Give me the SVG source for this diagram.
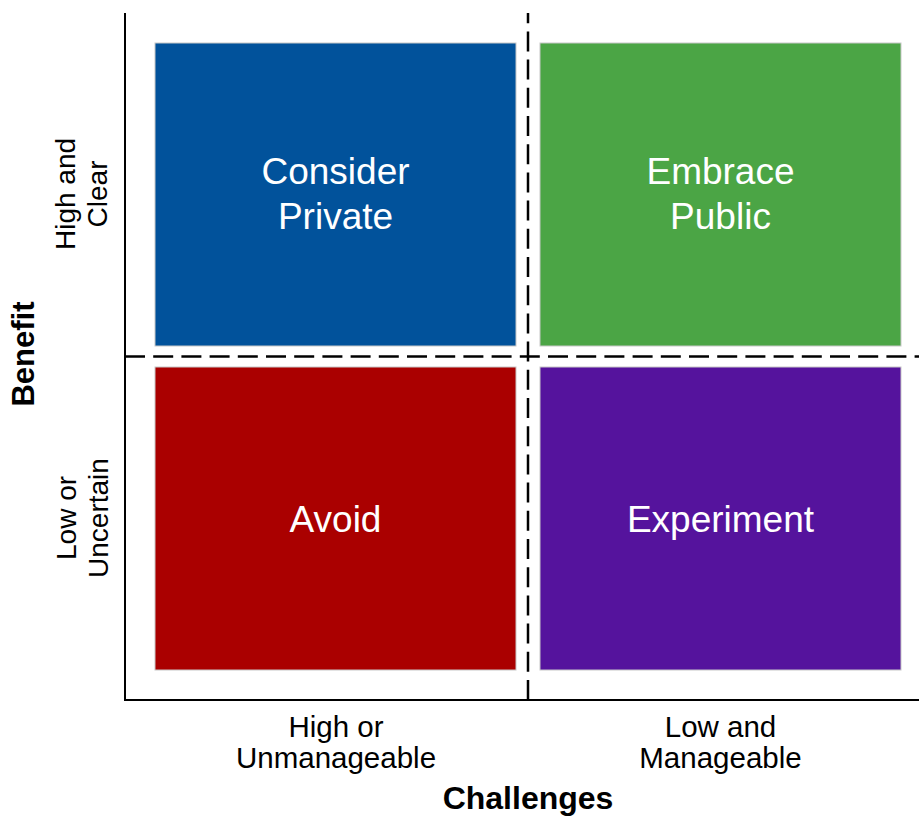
<svg xmlns="http://www.w3.org/2000/svg" width="919" height="816" viewBox="0 0 919 816">
  <style>
    .quad { stroke: #c8c8c8; stroke-width: 1; }
    .qlabel { font-family: "Liberation Sans", Arial, sans-serif; font-size: 37px; fill: #ffffff; text-anchor: middle; }
    .tick { font-family: "Liberation Sans", Arial, sans-serif; font-size: 29.5px; fill: #000000; text-anchor: middle; }
    .vtick { font-family: "Liberation Sans", Arial, sans-serif; font-size: 28px; fill: #000000; text-anchor: middle; }
    .title { font-family: "Liberation Sans", Arial, sans-serif; font-weight: bold; fill: #000000; text-anchor: middle; }
    .axis { stroke: #000000; stroke-width: 2; fill: none; }
    .divider { stroke: #000000; stroke-width: 2.5; stroke-dasharray: 20 8.2; fill: none; }
  </style>
  <rect width="919" height="816" fill="#ffffff"/>

  <!-- quadrants -->
  <g id="consider-private">
    <rect class="quad" x="155" y="43" width="361" height="303" fill="#01529B"/>
    <text class="qlabel" x="335.5" y="184">Consider</text>
    <text class="qlabel" x="335.5" y="229">Private</text>
  </g>
  <g id="embrace-public">
    <rect class="quad" x="540" y="43" width="361" height="303" fill="#4BA545"/>
    <text class="qlabel" x="720.5" y="184">Embrace</text>
    <text class="qlabel" x="720.5" y="229">Public</text>
  </g>
  <g id="avoid">
    <rect class="quad" x="155" y="367" width="361" height="303" fill="#AA0000"/>
    <text class="qlabel" x="335.5" y="531.5">Avoid</text>
  </g>
  <g id="experiment">
    <rect class="quad" x="540" y="367" width="361" height="303" fill="#55139D"/>
    <text class="qlabel" x="720.5" y="531.5">Experiment</text>
  </g>

  <!-- axes and quadrant dividers -->
  <g id="connectors">
    <path class="axis" d="M125 13 V700 H919"/>
    <path class="divider" d="M528 700 V13"/>
    <path class="divider" d="M125 356.5 H919"/>
  </g>

  <!-- axis labels -->
  <g id="x-axis-labels">
    <text class="tick" x="336" y="737">High or</text>
    <text class="tick" x="336" y="768">Unmanageable</text>
    <text class="tick" x="720.5" y="737">Low and</text>
    <text class="tick" x="720.5" y="768">Manageable</text>
    <text class="title" x="528" y="809" font-size="32">Challenges</text>
  </g>
  <g id="y-axis-labels">
    <text class="vtick" transform="translate(75,194) rotate(-90)">High and</text>
    <text class="vtick" transform="translate(107,194) rotate(-90)">Clear</text>
    <text class="vtick" transform="translate(76,518) rotate(-90)">Low or</text>
    <text class="vtick" transform="translate(108,518) rotate(-90)">Uncertain</text>
    <text class="title" transform="translate(34,354) rotate(-90)" font-size="31">Benefit</text>
  </g>
</svg>
